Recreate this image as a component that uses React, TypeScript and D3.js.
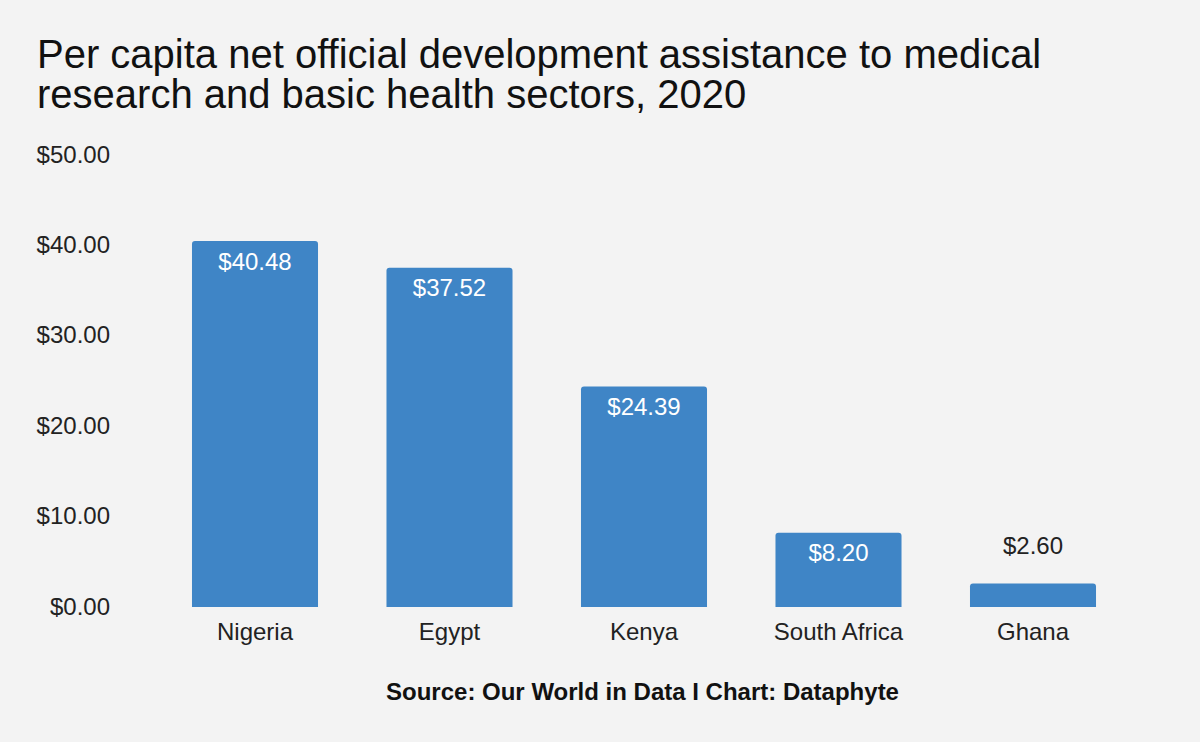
import React from "react";
import * as d3 from "d3";

const categories = ["Nigeria", "Egypt", "Kenya", "South Africa", "Ghana"];
const values = [40.48, 37.52, 24.39, 8.2, 2.6];
const yTicks = [0, 10, 20, 30, 40, 50];
const titleLines = [
  "Per capita net official development assistance to medical",
  "research and basic health sectors, 2020",
];
const sourceText = "Source: Our World in Data I Chart: Dataphyte";

const W = 1200;
const H = 742;
const FONT = "'Liberation Sans', Arial, sans-serif";

export default function App() {
  const x = d3.scaleBand<string>().domain(categories).range([157.75, 1130.25]).paddingInner(0.352).paddingOuter(0.176);
  const y = d3.scaleLinear().domain([0, 50]).range([607, 155]);
  const fmt = (v: number) => "$" + d3.format(".2f")(v);
  const r = 3;
  const barPath = (x0: number, y0: number, w: number, h: number) => {
    const rr = Math.min(r, h / 2);
    return `M${x0},${y0 + h}V${y0 + rr}Q${x0},${y0} ${x0 + rr},${y0}H${x0 + w - rr}Q${x0 + w},${y0} ${x0 + w},${y0 + rr}V${y0 + h}Z`;
  };
  return (
    <svg width={W} height={H} style={{ position: "absolute", left: 0, top: 0, display: "block" }} fontFamily={FONT}>
      <rect x={0} y={0} width={W} height={H} fill="#f3f3f3" />
      {titleLines.map((t, i) => (
        <text key={i} x={37} y={68 + i * 40} fontSize={40} fill="#111">
          {t}
        </text>
      ))}
      {yTicks.map((t) => (
        <text key={t} x={110} y={y(t) + 7.5} textAnchor="end" fontSize={24} fill="#222">
          {fmt(t)}
        </text>
      ))}
      {categories.map((c, i) => {
        const v = values[i];
        const x0 = x(c)!;
        const bw = x.bandwidth();
        const top = y(v);
        const h = y(0) - top;
        const inside = h > 40;
        return (
          <g key={c}>
            <path d={barPath(x0, top, bw, h)} fill="#3f85c6" />
            <text
              x={x0 + bw / 2}
              y={inside ? top + 28.5 : top - 29}
              textAnchor="middle"
              fontSize={24}
              fill={inside ? "#ffffff" : "#222"}
            >
              {fmt(v)}
            </text>
            <text x={x0 + bw / 2} y={639.5} textAnchor="middle" fontSize={24} fill="#222">
              {c}
            </text>
          </g>
        );
      })}
      <text x={642.5} y={700} textAnchor="middle" fontSize={24} fontWeight="bold" fill="#111">
        {sourceText}
      </text>
    </svg>
  );
}
